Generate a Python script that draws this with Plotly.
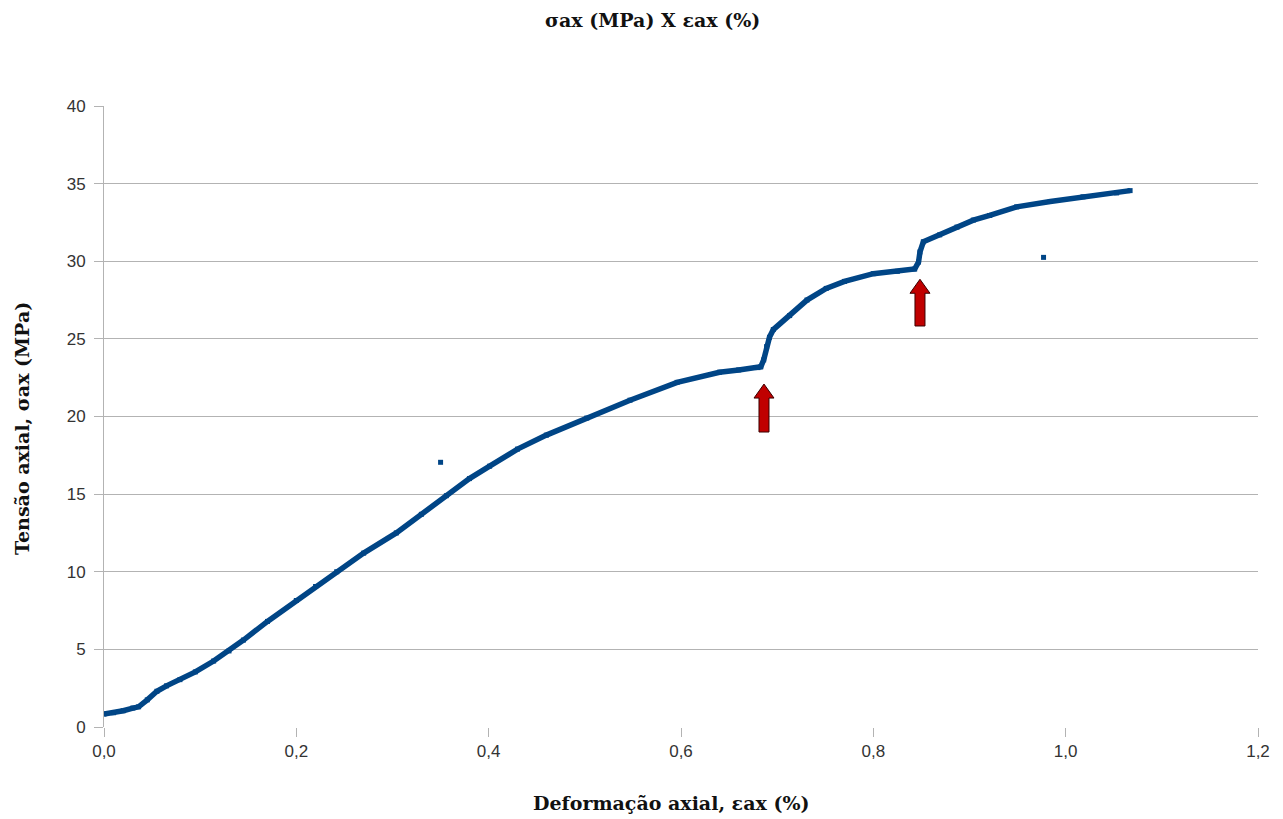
import plotly.graph_objects as go

# ---- data ----
strain = [0.000, 0.010, 0.020, 0.030, 0.036, 0.045, 0.055, 0.065, 0.079, 0.095,
          0.114, 0.130, 0.145, 0.170, 0.200, 0.220, 0.242, 0.270, 0.304, 0.330,
          0.356, 0.380, 0.401, 0.430, 0.460, 0.502, 0.547, 0.596, 0.640, 0.660,
          0.680, 0.683, 0.686, 0.689, 0.692, 0.696, 0.713, 0.731, 0.751, 0.770,
          0.800, 0.825, 0.843, 0.847, 0.8485, 0.852, 0.869, 0.887, 0.904, 0.921,
          0.949, 0.984, 1.018, 1.053, 1.067]
stress = [0.84, 0.92, 1.05, 1.22, 1.30, 1.75, 2.30, 2.65, 3.05, 3.55,
          4.25, 4.90, 5.60, 6.80, 8.15, 9.05, 10.0, 11.2, 12.5, 13.7,
          14.9, 16.0, 16.8, 17.9, 18.8, 19.9, 21.05, 22.2, 22.85, 23.0,
          23.15, 23.2, 23.65, 24.5, 25.1, 25.6, 26.5, 27.5, 28.25, 28.7,
          29.2, 29.35, 29.5, 29.95, 30.6, 31.25, 31.7, 32.2, 32.65, 32.95,
          33.5, 33.85, 34.15, 34.4, 34.55]
outlier_strain = [0.350, 0.977]
outlier_stress = [17.05, 30.25]

arrow_x = [0.6863, 0.8485]       # arrow tips (strain)
arrow_tip = [22.09, 28.84]       # arrow tip (stress)
arrow_len = [3.09, 3.01]         # arrow length (stress units)

x_ticks = [0.0, 0.2, 0.4, 0.6, 0.8, 1.0, 1.2]
y_ticks = [0, 5, 10, 15, 20, 25, 30, 35, 40]

SERIES = "#004586"
GRID = "#b3b3b3"
TICKFONT = dict(family="Liberation Sans", size=17, color="#333333")
TITLEFONT = dict(family="DejaVu Serif", size=19, color="#111111")

fig = go.Figure()
fig.add_trace(go.Scatter(
    x=strain, y=stress, mode="lines+markers",
    line=dict(color=SERIES, width=5.5),
    marker=dict(symbol="square", size=5, color=SERIES),
    showlegend=False, hoverinfo="skip"))
fig.add_trace(go.Scatter(
    x=outlier_strain, y=outlier_stress, mode="markers",
    marker=dict(symbol="square", size=5, color=SERIES),
    showlegend=False, hoverinfo="skip"))

# block arrows (head ~20px wide, shaft ~10px wide)
px_x = 1.2 / 1154.0
px_y = 40.0 / 621.0
for ax_, tip, L in zip(arrow_x, arrow_tip, arrow_len):
    hw = 10 * px_x
    sw = 5 * px_x
    hh = 14 * px_y
    base = tip - L
    path = (f"M {ax_} {tip} L {ax_ + hw} {tip - hh} L {ax_ + sw} {tip - hh} "
            f"L {ax_ + sw} {base} L {ax_ - sw} {base} L {ax_ - sw} {tip - hh} "
            f"L {ax_ - hw} {tip - hh} Z")
    fig.add_shape(type="path", path=path, xref="x", yref="y",
                  fillcolor="#c00000", line=dict(color="#3a0000", width=1))

fig.add_annotation(text="<b>Deformação axial, εax (%)</b>", xref="paper", yref="paper",
                   x=0.4913, y=-0.1224, xanchor="center", yanchor="middle",
                   showarrow=False, font=TITLEFONT)
fig.add_annotation(text="<b>Tensão axial, σax (MPa)</b>", xref="paper", yref="paper",
                   x=-0.0711, y=0.4815, xanchor="center", yanchor="middle",
                   textangle=-90, showarrow=False, font=TITLEFONT)

fig.update_layout(
    width=1275, height=811,
    margin=dict(l=96, r=25, t=98, b=92),
    paper_bgcolor="white", plot_bgcolor="white",
    separators=",.",
    font=TICKFONT,
    title=dict(text="<b>σax (MPa) X εax (%)</b>", x=0.5056, xanchor="center",
               y=1 - 12 / 811, yanchor="middle", font=TITLEFONT),
    xaxis=dict(range=[0, 1.2], tickvals=x_ticks, tickformat=".1f",
               showgrid=False, zeroline=False,
               showline=False, ticks="outside", ticklen=9, tickcolor=GRID,
               tickfont=TICKFONT),
    yaxis=dict(range=[0, 40], tickvals=y_ticks,
               showgrid=True, gridcolor=GRID, gridwidth=1, zeroline=False,
               showline=True, linecolor=GRID, linewidth=1,
               ticks="outside", ticklen=9, tickcolor=GRID,
               ticklabelstandoff=5,
               tickfont=TICKFONT),
)

fig.write_html("out.html")
